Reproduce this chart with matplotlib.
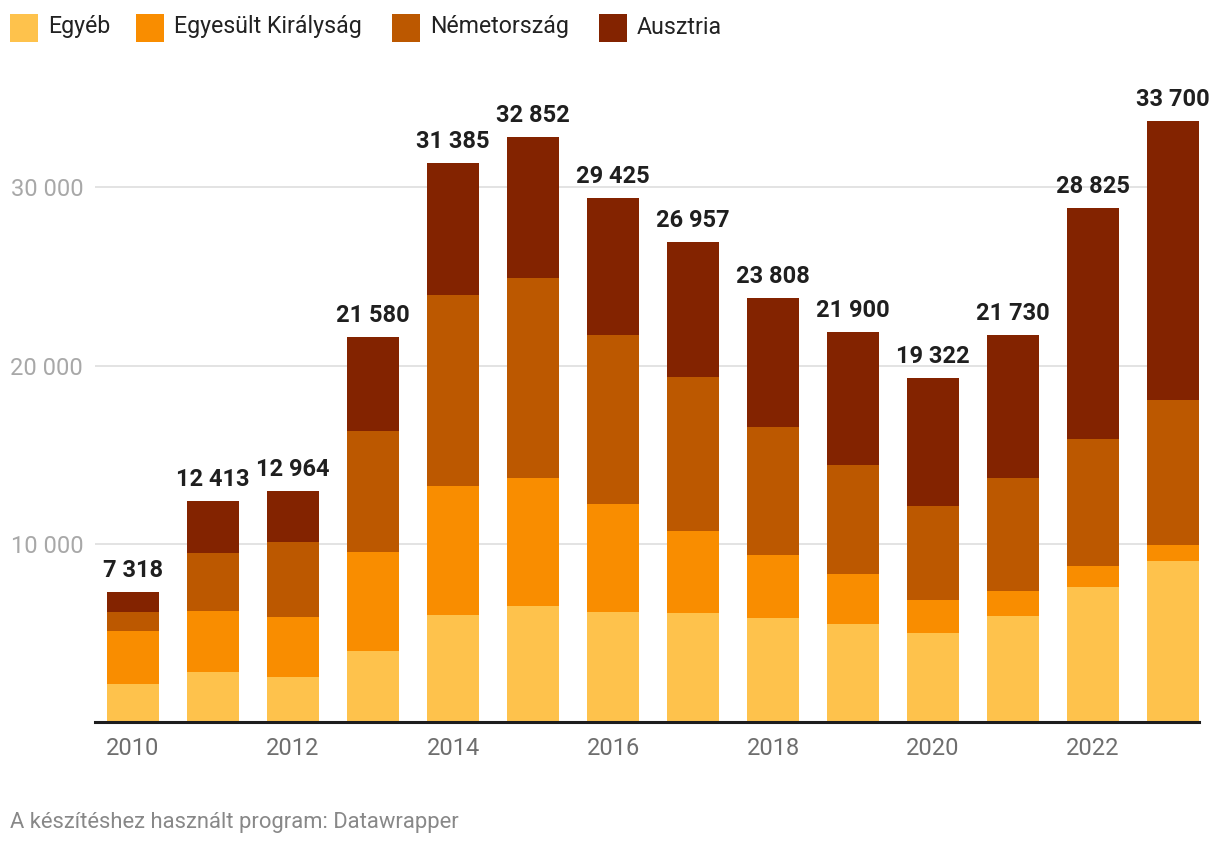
import numpy as np
import matplotlib
matplotlib.use("Agg")
import matplotlib.pyplot as plt
from matplotlib.patches import Rectangle

plt.rcParams["font.family"] = ["Roboto", "DejaVu Sans"]

# adatok (leolvasva)
years = np.arange(2010, 2024)
egyeb = [2160, 2833, 2553, 4011, 6031, 6536, 6158, 6118, 5823, 5487, 4981, 5936, 7579, 9045]
uk = [2973, 3422, 3365, 5554, 7237, 7180, 6069, 4591, 3546, 2809, 1854, 1405, 1187, 885]
nemet = [1066, 3254, 4208, 6788, 10715, 11220, 9497, 8651, 7193, 6123, 5281, 6348, 7124, 8149]
totals = [7318, 12413, 12964, 21580, 31385, 32852, 29425, 26957, 23808, 21900, 19322, 21730, 28825, 33700]
ausztria = [t - a - b - c for t, a, b, c in zip(totals, egyeb, uk, nemet)]

series = ["Egyéb", "Egyesült Királyság", "Németország", "Ausztria"]
colors = ["#fec24c", "#f98d00", "#bc5800", "#832300"]

W, H = 1220, 846
fig = plt.figure(figsize=(W / 100, H / 100), dpi=100)
ax = fig.add_axes([95 / W, (H - 722) / H, (1199 - 95) / W, (722 - 107) / H])

bottom = np.zeros(len(years))
for name, vals, col in zip(series, [egyeb, uk, nemet, ausztria], colors):
    ax.bar(years, vals, bottom=bottom, width=0.65, color=col, zorder=2, linewidth=0)
    bottom += np.array(vals)

# összeg címkék
for x, t in zip(years, totals):
    label = f"{t:,}".replace(",", " ")
    ax.annotate(label, (x, t), xytext=(0, 10.8), textcoords="offset points",
                ha="center", va="baseline", fontsize=17, fontweight="bold",
                color="#1f1f1f", annotation_clip=False)

ax.set_xlim(2010 - 38 / 80, 2023 + 26 / 80)
ax.set_ylim(0, 34512)

ax.set_yticks([10000, 20000, 30000])
ax.set_yticklabels(["10 000", "20 000", "30 000"])
ax.set_xticks(years[::2])
ax.set_xticklabels([str(y) for y in years[::2]])
ax.tick_params(axis="y", length=0, pad=8.5, labelsize=17, labelcolor="#a8a8a8")
ax.tick_params(axis="x", length=0, pad=11, labelsize=17, labelcolor="#6e6e6e")

ax.grid(axis="y", color="#e3e3e3", linewidth=1.4, zorder=0)
ax.axhline(0, color="#1d1d1d", linewidth=2.2, zorder=3, clip_on=False)
for s in ax.spines.values():
    s.set_visible(False)

# jelmagyarázat
leg_x = [10, 136, 392, 599]
for name, col, x0 in zip(series, colors, leg_x):
    fig.add_artist(Rectangle((x0 / W, (H - 42) / H), 28 / W, 28 / H,
                             transform=fig.transFigure, color=col, linewidth=0))
    fig.text((x0 + 38) / W, (H - 27) / H, name, fontsize=16.7, color="#222222",
             ha="left", va="center")

fig.text(10 / W, (H - 822) / H, "A készítéshez használt program: Datawrapper",
         fontsize=15.8, color="#888888", ha="left", va="center")

fig.savefig("out.png", dpi=100)
